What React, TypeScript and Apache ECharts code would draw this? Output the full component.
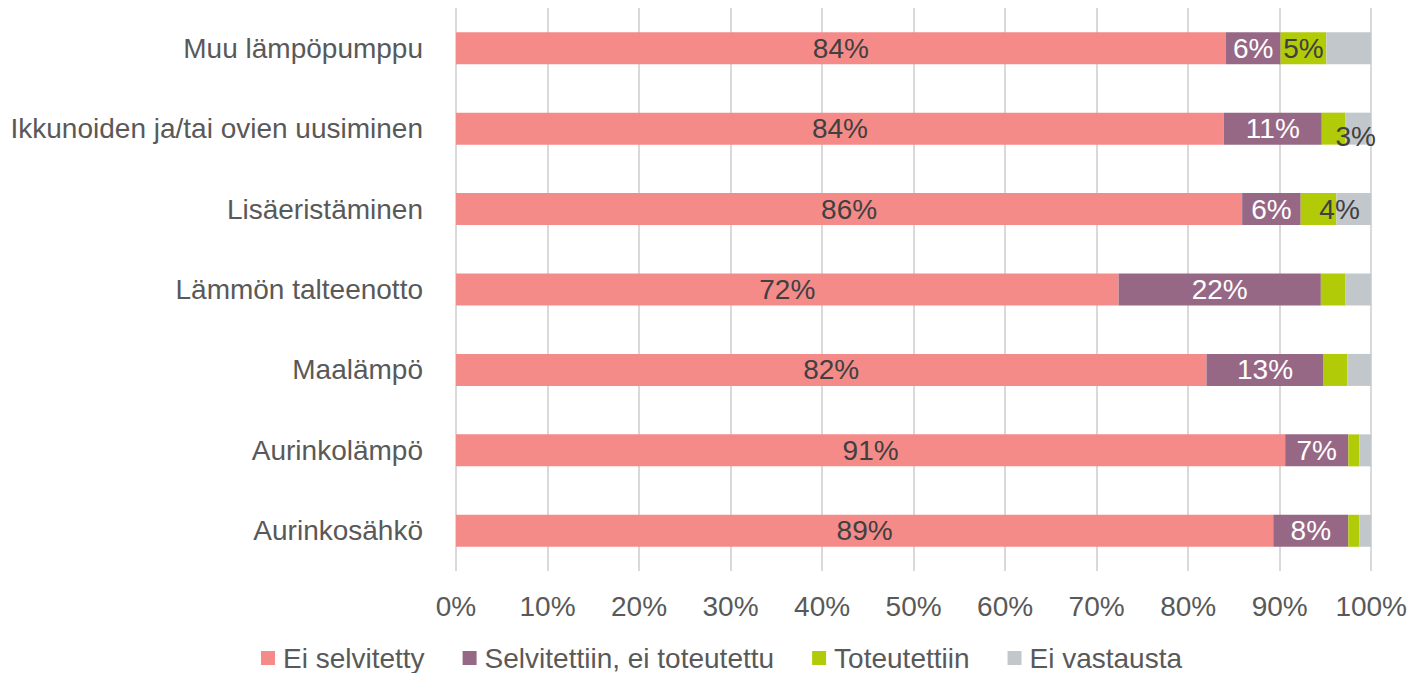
import React, { useEffect, useRef } from "react";
import * as echarts from "echarts";

const categories = [
  "Muu lämpöpumppu",
  "Ikkunoiden ja/tai ovien uusiminen",
  "Lisäeristäminen",
  "Lämmön talteenotto",
  "Maalämpö",
  "Aurinkolämpö",
  "Aurinkosähkö",
];
const seriesNames = ["Ei selvitetty", "Selvitettiin, ei toteutettu", "Toteutettiin", "Ei vastausta"];
const eiSelvitetty = [84.1, 83.9, 85.9, 72.4, 82.0, 90.6, 89.3];
const selvitettiin = [6.0, 10.7, 6.4, 22.1, 12.8, 6.9, 8.2];
const toteutettiin = [5.0, 2.6, 3.9, 2.7, 2.6, 1.2, 1.2];
const eiVastausta = [4.9, 2.8, 3.8, 2.8, 2.6, 1.3, 1.3];
const xTicks = [0, 10, 20, 30, 40, 50, 60, 70, 80, 90, 100];

const colors = ["#F58B89", "#976886", "#B1CB09", "#C2C7CB"];
const FONT = "'Liberation Sans', Arial, sans-serif";
const FS = 28;

export default function App() {
  const ref = useRef<HTMLDivElement>(null);
  useEffect(() => {
    if (!ref.current) return;
    const chart = echarts.init(ref.current, undefined, { renderer: "svg" });
    const fmt = (p: any) => Math.round(p.value) + "%";
    const greenLabelOffsets: Record<number, number[]> = { 1: [22, 8], 2: [21, 0] };
    const option: any = {
      animation: false,
      textStyle: { fontFamily: FONT },
      grid: { left: 456, right: 38, top: 8, bottom: 102, containLabel: false },
      legend: {
        left: 256,
        top: 639,
        itemWidth: 14,
        itemHeight: 14,
        itemGap: 38,
        icon: "rect",
        textStyle: { fontSize: FS, color: "#595959", fontFamily: FONT, padding: [0, 0, 0, 3] },
        data: seriesNames,
      },
      xAxis: {
        type: "value",
        min: 0,
        max: 100,
        interval: 10,
        axisLine: { show: false },
        axisTick: { show: false },
        splitLine: { show: true, lineStyle: { color: "#D9D9D9", width: 2 } },
        axisLabel: {
          fontSize: FS,
          color: "#595959",
          fontFamily: FONT,
          margin: 21,
          formatter: (v: number) => (xTicks.includes(v) ? v + "%" : ""),
        },
      },
      yAxis: {
        type: "category",
        inverse: true,
        data: categories,
        axisLine: { show: false },
        axisTick: { show: false },
        axisLabel: { fontSize: FS, color: "#595959", fontFamily: FONT, margin: 33 },
      },
      series: [
        {
          name: seriesNames[0],
          type: "bar",
          stack: "s",
          barWidth: 32,
          itemStyle: { color: colors[0] },
          label: { show: true, position: "inside", color: "#404040", fontSize: FS, fontFamily: FONT, formatter: fmt },
          data: eiSelvitetty,
        },
        {
          name: seriesNames[1],
          type: "bar",
          stack: "s",
          barWidth: 32,
          itemStyle: { color: colors[1] },
          label: { show: true, position: "inside", color: "#FFFFFF", fontSize: FS, fontFamily: FONT, formatter: fmt },
          data: selvitettiin,
        },
        {
          name: seriesNames[2],
          type: "bar",
          stack: "s",
          barWidth: 32,
          itemStyle: { color: colors[2] },
          label: { show: false },
          data: toteutettiin.map((v, i) => ({
            value: v,
            label: {
              show: i < 3,
              position: "inside",
              color: "#404040",
              fontSize: FS,
              fontFamily: FONT,
              formatter: fmt,
              offset: greenLabelOffsets[i] || [0, 0],
            },
          })),
        },
        {
          name: seriesNames[3],
          type: "bar",
          stack: "s",
          barWidth: 32,
          itemStyle: { color: colors[3] },
          label: { show: false },
          data: eiVastausta,
        },
      ],
    };
    chart.setOption(option);
    return () => chart.dispose();
  }, []);
  return (
    <div
      ref={ref}
      style={{ position: "fixed", left: 0, top: 0, width: 1410, height: 673, background: "#fff" }}
    />
  );
}
